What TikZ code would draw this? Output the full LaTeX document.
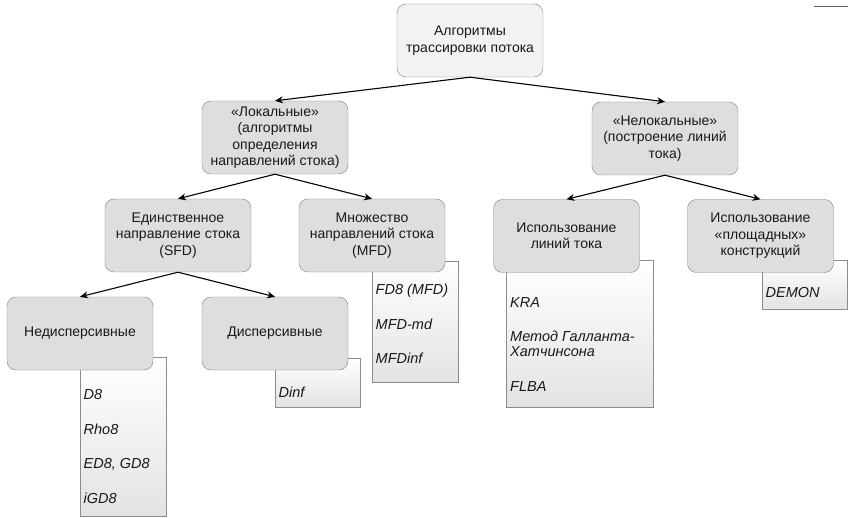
\documentclass[tikz,border=0pt]{standalone}
\usepackage{fontspec}
\setmainfont{Liberation Sans}
\usetikzlibrary{arrows.meta}

\tikzset{
  algnode/.style={draw=black!50, fill=black!13, rounded corners=9pt,
    minimum width=146pt, minimum height=73pt, align=center, inner sep=2pt,
    text=black!90, font=\fontsize{14}{16.5}\selectfont},
  rootnode/.style={algnode, fill=black!5},
  listbox/.style={draw=black!45, top color=white, bottom color=black!11,
    anchor=north west, inner sep=0pt},
  listtext/.style={align=left, anchor=north west, inner sep=0pt, text=black!90,
    font=\fontsize{14.5}{14}\selectfont\itshape},
  flow/.style={-{Stealth[length=8pt,width=7pt]}, line width=1.1pt}
}

\begin{document}
\begin{tikzpicture}[x=1pt,y=-1pt]
\useasboundingbox (0,0) rectangle (848,518);

% Lists of methods (behind the boxes)
\node[listbox, minimum width=86pt, minimum height=159pt] (ndlist) at (80,357) {};
\node[listtext] (ndtext) at ([xshift=3.5pt,yshift=-32.5pt]ndlist.north west)
  {D8\\[20.5pt]Rho8\\[20.5pt]ED8, GD8\\[20.5pt]iGD8};
\node[listbox, minimum width=85pt, minimum height=49pt] (dlist) at (275,358) {};
\node[listtext] (dtext) at ([xshift=3.5pt,yshift=-28.5pt]dlist.north west) {Dinf};
\node[listbox, minimum width=86pt, minimum height=121pt] (mfdlist) at (372,261) {};
\node[listtext] (mfdtext) at ([xshift=3.5pt,yshift=-23pt]mfdlist.north west)
  {FD8 (MFD)\\[20.5pt]MFD-md\\[20.5pt]MFDinf};
\node[listbox, minimum width=147pt, minimum height=147pt] (kralist) at (506,260) {};
\node[listtext, font=\fontsize{14.5}{15}\selectfont\itshape] (kratext)
  at ([xshift=4pt,yshift=-37.5pt]kralist.north west)
  {KRA\\[19pt]Метод Галланта-\\Хатчинсона\\[20pt]FLBA};
\node[listbox, minimum width=85pt, minimum height=49pt] (demlist) at (762,260) {};
\node[listtext] (demtext) at ([xshift=3.5pt,yshift=-27pt]demlist.north west) {DEMON};

% Classification boxes
\node[rootnode] (root) at (470,40.5) {Алгоритмы\\трассировки потока};
\node[algnode] (loc) at (275,137.5) {«Локальные»\\(алгоритмы\\определения\\направлений стока)};
\node[algnode] (nonloc) at (665,138.5) {«Нелокальные»\\(построение линий\\тока)};
\node[algnode] (sfd) at (178,235.5) {Единственное\\направление стока\\(SFD)};
\node[algnode] (mfd) at (372,235.5) {Множество\\направлений стока\\(MFD)};
\node[algnode] (ndisp) at (80,333.5) {Недисперсивные};
\node[algnode] (disp) at (275,333.5) {Дисперсивные};
\node[algnode] (lines) at (566.5,236) {Использование\\линий тока};
\node[algnode] (area) at (760.5,236) {Использование\\«площадных»\\конструкций};

% Connectors
\draw[flow] (root.south) -- (loc.north);
\draw[flow] (root.south) -- (nonloc.north);
\draw[flow] (loc.south) -- (sfd.north);
\draw[flow] (loc.south) -- (mfd.north);
\draw[flow] (sfd.south) -- (ndisp.north);
\draw[flow] (sfd.south) -- (disp.north);
\draw[flow] (nonloc.south) -- (lines.north);
\draw[flow] (nonloc.south) -- (area.north);

% stray mark at the top right
\draw[black!60, line width=0.9pt] (814,6) -- (848,6);
\end{tikzpicture}
\end{document}
